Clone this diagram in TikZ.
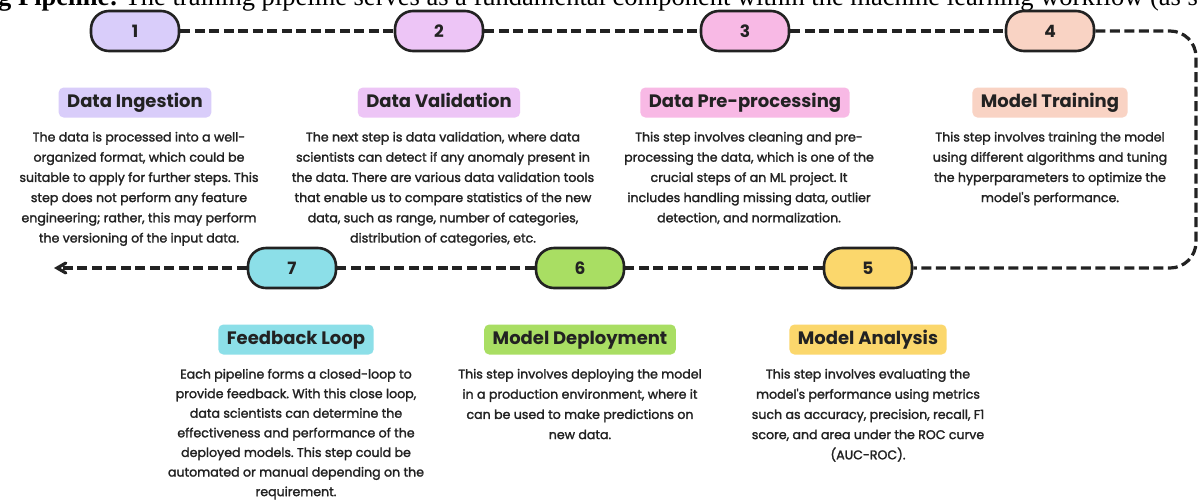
\documentclass[tikz,border=0pt]{standalone}
\usepackage{fontspec}
\setmainfont{Poppins}
\newfontfamily\bodyfont{Poppins}[FakeBold=1.8]
\newfontfamily\capfont{Liberation Serif}
\usepackage{tikz}
\usetikzlibrary{positioning, arrows}
\usepackage{xcolor}
\frenchspacing

\definecolor{lilac}{HTML}{D9CDFA}
\definecolor{orchid}{HTML}{EDC5F6}
\definecolor{rosy}{HTML}{F8B9E5}
\definecolor{peach}{HTML}{F9D3C4}
\definecolor{sunny}{HTML}{FBD76C}
\definecolor{lime}{HTML}{A9DE63}
\definecolor{aqua}{HTML}{8CDFE8}
\definecolor{ink}{HTML}{222222}

\tikzset{
  stepbox/.style={draw=ink, line width=2.6pt, rounded corners=18pt,
    minimum width=88pt, minimum height=40pt, text=ink,
    font=\fontsize{17}{17}\selectfont\bfseries},
  headbox/.style={rounded corners=5pt, minimum height=30pt, inner ysep=0pt,
    inner xsep=8.5pt, text height=13pt, text depth=3.5pt,
    text=ink, font=\fontsize{18}{18}\selectfont\bfseries},
  textbox/.style={align=center, inner sep=0pt, text=ink,
    font=\bodyfont\fontsize{12.6}{20.2}\selectfont},
  flow/.style={draw=ink, line width=3.2pt, dash pattern=on 10pt off 4.5pt, >=angle 60},
}

\begin{document}
\begin{tikzpicture}[x=1pt, y=-1pt]
    \path[use as bounding box, fill=white] (0,0) rectangle (1198,499);

    % caption of the page, cut off by the top edge
    \node[anchor=base west, inner sep=0pt, text=black,
      font=\capfont\fontsize{26.5}{26.5}\selectfont] (cap) at (-2,5)
      {\textbf{g Pipeline:} The training pipeline serves as a fundamental component within the machine learning workflow (as s};

    % upper row
    \node[stepbox, fill=lilac] (s1) at (135,31) {1};
    \node[stepbox, fill=orchid] (s2) at (439,31) {2};
    \node[stepbox, fill=rosy] (s3) at (745,31) {3};
    \node[stepbox, fill=peach] (s4) at (1050,31) {4};

    \node[headbox, fill=lilac] (t1) [below=35pt of s1] {Data Ingestion};
    \node[headbox, fill=orchid] (t2) [below=35pt of s2] {Data Validation};
    \node[headbox, fill=rosy] (t3) [below=35pt of s3] {Data Pre-processing};
    \node[headbox, fill=peach] (t4) [below=35pt of s4] {Model Training};

    \node[textbox] (d1) [below=14pt of t1, xshift=4pt] {The data is processed into a well-\\organized format, which could be\\suitable to apply for further steps. This\\step does not perform any feature\\engineering; rather, this may perform\\the versioning of the input data.};
    \node[textbox] (d2) [below=14pt of t2, xshift=4pt] {The next step is data validation, where data\\scientists can detect if any anomaly present in\\the data. There are various data validation tools\\that enable us to compare statistics of the new\\data, such as range, number of categories,\\distribution of categories, etc.};
    \node[textbox] (d3) [below=14pt of t3, xshift=4pt] {This step involves cleaning and pre-\\processing the data, which is one of the\\crucial steps of an ML project. It\\includes handling missing data, outlier\\detection, and normalization.};
    \node[textbox] (d4) [below=14pt of t4] {This step involves training the model\\using different algorithms and tuning\\the hyperparameters to optimize the\\model's performance.};

    % lower row
    \node[stepbox, fill=sunny] (s5) at (868,268) {5};
    \node[stepbox, fill=lime] (s6) at (580,268) {6};
    \node[stepbox, fill=aqua] (s7) at (292,268) {7};

    \node[headbox, fill=sunny] (t5) [below=35pt of s5] {Model Analysis};
    \node[headbox, fill=lime] (t6) [below=35pt of s6] {Model Deployment};
    \node[headbox, fill=aqua] (t7) [below=35pt of s7, xshift=4pt] {Feedback Loop};

    \node[textbox] (d5) [below=14pt of t5] {This step involves evaluating the\\model's performance using metrics\\such as accuracy, precision, recall, F1\\score, and area under the ROC curve\\(AUC-ROC).};
    \node[textbox] (d6) [below=14pt of t6] {This step involves deploying the model\\in a production environment, where it\\can be used to make predictions on\\new data.};
    \node[textbox, font=\bodyfont\fontsize{12.6}{19.6}\selectfont] (d7) [below=14pt of t7] {Each pipeline forms a closed-loop to\\provide feedback. With this close loop,\\data scientists can determine the\\effectiveness and performance of the\\deployed models. This step could be\\automated or manual depending on the\\requirement.};

    % dashed flow
    \coordinate (ne) at (1196,31);
    \coordinate (se) at (1196,268);
    \coordinate (out) at (54,268);

    \path[flow]
    (s1) edge (s2)
    (s2) edge (s3)
    (s3) edge (s4)
    (s5) edge (s6)
    (s6) edge (s7);
    \draw[flow, rounded corners=26pt] (s4.east) -- (ne) -- (se) -- (s5.east);
    \draw[flow, ->] (s7.west) -- (out);
\end{tikzpicture}
\end{document}
